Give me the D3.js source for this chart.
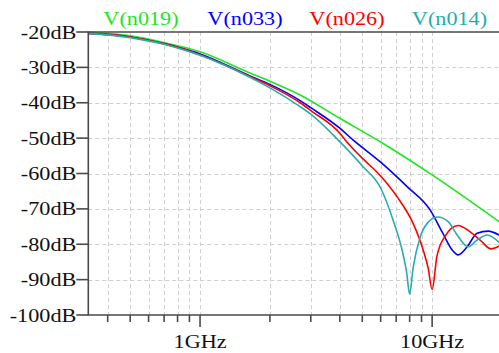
<!DOCTYPE html>
<html>
<head>
<meta charset="utf-8">
<script src="https://cdn.jsdelivr.net/npm/d3@7"></script>
<style>
  html, body { margin: 0; padding: 0; background: #fff; }
  svg { display: block; }
</style>
</head>
<body>
<div id="chart"></div>
<script>
// traces: frequency in GHz, magnitude in dB
const seriesNames = ['V(n019)', 'V(n033)', 'V(n026)', 'V(n014)']
const seriesColors = ['#1ee61e', '#0000ff', '#ff0000', '#26adad']

const freqN019 = [0.329, 0.5, 0.72, 1.0, 1.64, 2.0, 2.7, 4.0, 6.0, 10.0, 19.5]
const dbN019 = [-20.0, -21.1, -23.2, -25.6, -31.6, -33.9, -37.8, -44.4, -51.1, -60.4, -73.7]

const freqN033 = [0.329, 0.5, 0.72, 0.82, 1.0, 1.64, 2.0, 2.7, 3.0, 4.0, 4.56, 6.0, 7.28, 7.8, 9.8, 11.1, 12.2, 12.94, 14.16, 15.63, 17.44, 19.45]
const dbN033 = [-20.4, -21.4, -23.5, -24.5, -26.2, -32.4, -34.8, -39.4, -41.4, -47.2, -50.5, -56.8, -61.8, -63.7, -70.3, -76.8, -81.6, -83.0, -80.7, -76.9, -76.3, -77.4]

const freqN026 = [0.329, 0.5, 0.72, 1.0, 1.64, 2.0, 2.7, 3.0, 4.0, 4.22, 4.9, 6.0, 7.07, 8.28, 9.15, 9.61, 10.0, 10.48, 11.32, 12.94, 14.58, 16.1, 17.96, 19.45]
const dbN026 = [-20.4, -21.4, -23.5, -26.4, -32.6, -35.2, -40.0, -42.2, -48.6, -50.5, -55.1, -60.7, -66.6, -74.1, -81.6, -86.7, -92.8, -83.5, -77.9, -74.7, -76.5, -78.8, -81.3, -80.5]

const freqN014 = [0.329, 0.5, 0.72, 1.0, 1.64, 2.0, 2.7, 3.0, 4.0, 5.04, 6.0, 6.79, 7.42, 7.76, 8.0, 8.28, 8.88, 9.52, 10.56, 11.72, 12.82, 14.3, 15.63, 17.27, 19.45]
const dbN014 = [-20.4, -21.6, -23.7, -26.6, -32.8, -35.8, -41.1, -43.2, -51.0, -58.1, -64.1, -73.2, -81.6, -87.8, -94.1, -86.7, -78.0, -74.1, -72.3, -73.6, -77.4, -80.7, -78.8, -77.4, -79.5]

const yTicks = [-20, -30, -40, -50, -60, -70, -80, -90, -100]
const xMajorTicks = [1, 10]
const xMajorLabels = ['1GHz', '10GHz']
const xMinorTicks = [0.4, 0.5, 0.6, 0.7, 0.8, 0.9, 2, 3, 4, 5, 6, 7, 8, 9]

const series = [
  { name: seriesNames[0], color: seriesColors[0], f: freqN019, db: dbN019 },
  { name: seriesNames[1], color: seriesColors[1], f: freqN033, db: dbN033 },
  { name: seriesNames[2], color: seriesColors[2], f: freqN026, db: dbN026 },
  { name: seriesNames[3], color: seriesColors[3], f: freqN014, db: dbN014 }
]

/*
CANVAS
*/
const fullWidth = 499
const fullHeight = 353
const plot = { left: 88.3, top: 32, right: 502, bottom: 315 }
const textFont = '"Liberation Serif", "Times New Roman", serif'
const textSize = 19
const stretch = 1.17

const svg = d3.select('#chart')
  .append('svg')
  .attr('width', fullWidth)
  .attr('height', fullHeight)

const x = d3.scaleLog().domain([0.33, 20]).range([plot.left, plot.right])
const y = d3.scaleLinear().domain([-100, -20]).range([plot.bottom, plot.top])

svg.append('defs').append('clipPath')
  .attr('id', 'plot-clip')
  .append('rect')
  .attr('x', plot.left)
  .attr('y', plot.top - 2)
  .attr('width', plot.right - plot.left)
  .attr('height', plot.bottom - plot.top + 2)

// GRID
const grid = svg.append('g')
  .attr('stroke', '#cfcfcf')
  .attr('stroke-width', 1)
  .attr('stroke-dasharray', '4,3')

grid.selectAll('line.vgrid')
  .data(xMinorTicks.concat(xMajorTicks))
  .enter()
  .append('line')
  .attr('class', 'vgrid')
  .attr('x1', d => Math.round(x(d)) + 0.5)
  .attr('x2', d => Math.round(x(d)) + 0.5)
  .attr('y1', plot.top)
  .attr('y2', plot.bottom)

grid.selectAll('line.hgrid')
  .data(yTicks.filter(d => d > -100 && d < -20))
  .enter()
  .append('line')
  .attr('class', 'hgrid')
  .attr('x1', plot.left)
  .attr('x2', fullWidth)
  .attr('y1', d => Math.round(y(d)) + 0.5)
  .attr('y2', d => Math.round(y(d)) + 0.5)

// TRACES
const line = d3.line()
  .x(d => x(d[0]))
  .y(d => y(d[1]))
  .curve(d3.curveMonotoneX)

svg.append('g')
  .attr('clip-path', 'url(#plot-clip)')
  .selectAll('path')
  .data(series)
  .enter()
  .append('path')
  .attr('d', s => line(s.f.map((f, i) => [f, s.db[i]])))
  .attr('fill', 'none')
  .attr('stroke', s => s.color)
  .attr('stroke-width', 1.6)
  .attr('stroke-linejoin', 'round')

// FRAME AND TICKS
const frame = svg.append('g')
  .attr('stroke', '#4a4a4a')
  .attr('stroke-width', 1.6)
  .attr('fill', 'none')

frame.append('path')
  .attr('d', `M${fullWidth},${plot.top}H${plot.left}V${plot.bottom}H${fullWidth}`)

frame.selectAll('line.ytick')
  .data(yTicks)
  .enter()
  .append('line')
  .attr('x1', plot.left - 12)
  .attr('x2', plot.left)
  .attr('y1', d => y(d))
  .attr('y2', d => y(d))

frame.selectAll('line.xmajor')
  .data(xMajorTicks)
  .enter()
  .append('line')
  .attr('x1', d => x(d))
  .attr('x2', d => x(d))
  .attr('y1', plot.bottom)
  .attr('y2', plot.bottom + 12)

frame.selectAll('line.xminor')
  .data(xMinorTicks)
  .enter()
  .append('line')
  .attr('x1', d => x(d))
  .attr('x2', d => x(d))
  .attr('y1', plot.bottom)
  .attr('y2', plot.bottom + 7)

// TEXT
function addText(px, py, str, anchor, color) {
  svg.append('g')
    .attr('transform', `translate(${px},${py}) scale(${stretch},1)`)
    .append('text')
    .attr('text-anchor', anchor)
    .attr('font-family', textFont)
    .attr('font-size', textSize)
    .attr('fill', color)
    .text(str)
}

yTicks.forEach(d => addText(plot.left - 12, y(d) + 6.5, `${d}dB`, 'end', '#111'))
xMajorTicks.forEach((d, i) => addText(x(d), 348, xMajorLabels[i], 'middle', '#111'))

const legendX = [141, 245, 347, 449.5]
series.forEach((s, i) => addText(legendX[i], 25, s.name, 'middle', s.color))
</script>
</body>
</html>
